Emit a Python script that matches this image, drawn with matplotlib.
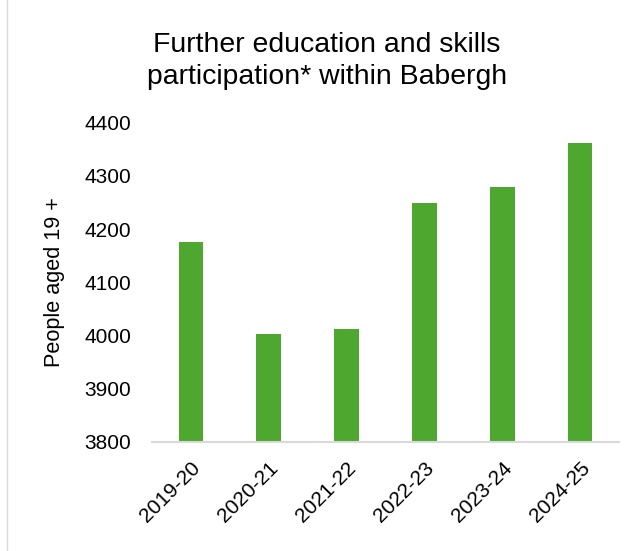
import matplotlib.pyplot as plt
import matplotlib.lines as mlines

plt.rcParams['font.family'] = ['Liberation Sans', 'DejaVu Sans']

years = ['2019-20', '2020-21', '2021-22', '2022-23', '2023-24', '2024-25']
people = [4175, 4002, 4012, 4249, 4279, 4362]

fig = plt.figure(figsize=(6.42, 5.51), dpi=100)
ax = fig.add_axes([0.237, 0.1984, 0.727, 0.5789])

ax.bar(years, people, width=0.32, color='#4EA72E', zorder=2)
ax.set_ylim(3800, 4400)
ax.set_yticks(range(3800, 4401, 100))
ax.set_xlim(-0.5, len(years) - 0.5)

for s in ['top', 'right', 'left']:
    ax.spines[s].set_visible(False)
ax.spines['bottom'].set_color('#D9D9D9')
ax.spines['bottom'].set_linewidth(1.5)
ax.tick_params(axis='both', length=0, labelsize=15, colors='black')
ax.tick_params(axis='x', pad=12)
ax.tick_params(axis='y', pad=15)
plt.setp(ax.get_xticklabels(), rotation=45, ha='right', rotation_mode='anchor')

ax.set_ylabel('People aged 19 +', fontsize=15.6, labelpad=14)

fig.text(0.509, 0.889, 'Further education and skills\nparticipation* within Babergh',
         ha='center', va='center', fontsize=20.4, linespacing=1.3)

# faint frame line at the left edge
fig.add_artist(mlines.Line2D([0.011, 0.011], [0, 1], color='#D9D9D9', lw=1,
                             transform=fig.transFigure))

fig.savefig('out.png', dpi=100)
